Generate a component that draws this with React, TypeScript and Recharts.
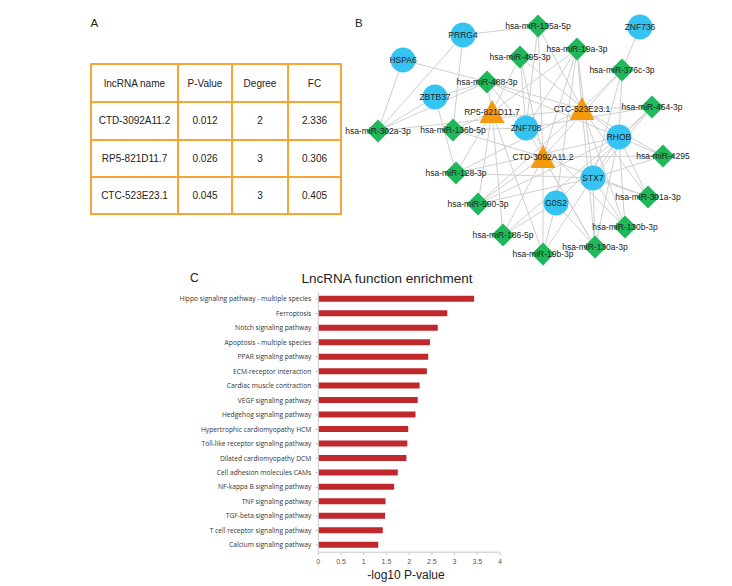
import React from "react";
import {
  BarChart, Bar, XAxis, YAxis, ScatterChart, Scatter,
} from "recharts";

// ---------- Panel A: table ----------
const tableHeader = ["lncRNA name", "P-Value", "Degree", "FC"];
const lncTableNames = ["CTD-3092A11.2", "RP5-821D11.7", "CTC-523E23.1"];
const lncPValues = ["0.012", "0.026", "0.045"];
const lncDegrees = ["2", "3", "3"];
const lncFC = ["2.336", "0.306", "0.405"];

// ---------- Panel B: network ----------
const mrnaNames = ["PRRG4", "ZNF736", "HSPA6", "ZBTB37", "ZNF708", "RHOB", "STX7", "G0S2"];
const mrnaX = [463, 640, 403, 435, 526, 619, 593, 556];
const mrnaY = [35, 27, 60, 97, 128, 137, 178, 203];

const lncNames = ["RP5-821D11.7", "CTC-523E23.1", "CTD-3092A11.2"];
const lncX = [492, 582, 543];
const lncY = [112, 109, 157];

const mirNames = [
  "hsa-miR-135a-5p", "hsa-miR-19a-3p", "hsa-miR-495-3p", "hsa-miR-376c-3p",
  "hsa-miR-488-3p", "hsa-miR-454-3p", "hsa-miR-302a-3p", "hsa-miR-136b-5p",
  "hsa-miR-4295", "hsa-miR-128-3p", "hsa-miR-301a-3p", "hsa-miR-590-3p",
  "hsa-miR-130b-3p", "hsa-miR-186-5p", "hsa-miR-130a-3p", "hsa-miR-19b-3p",
];
const mirX = [538, 577, 520, 622, 487, 652, 378, 453, 663, 456, 648, 478, 625, 503, 595, 543];
const mirY = [26, 49, 57, 70, 82, 107, 131, 130, 156, 173, 197, 204, 227, 235, 247, 254];

const edges: [string, string][] = [
  ["PRRG4", "hsa-miR-135a-5p"], ["PRRG4", "hsa-miR-302a-3p"], ["PRRG4", "hsa-miR-136b-5p"],
  ["HSPA6", "hsa-miR-302a-3p"], ["HSPA6", "hsa-miR-488-3p"],
  ["ZBTB37", "hsa-miR-302a-3p"], ["ZBTB37", "hsa-miR-128-3p"], ["ZBTB37", "hsa-miR-488-3p"],
  ["ZNF736", "hsa-miR-376c-3p"],
  ["hsa-miR-302a-3p", "hsa-miR-488-3p"], ["hsa-miR-302a-3p", "CTC-523E23.1"],
  ["RP5-821D11.7", "hsa-miR-488-3p"], ["RP5-821D11.7", "hsa-miR-495-3p"], ["RP5-821D11.7", "hsa-miR-19a-3p"],
  ["RP5-821D11.7", "hsa-miR-136b-5p"], ["RP5-821D11.7", "hsa-miR-128-3p"], ["RP5-821D11.7", "hsa-miR-590-3p"],
  ["RP5-821D11.7", "hsa-miR-186-5p"], ["RP5-821D11.7", "hsa-miR-19b-3p"],
  ["CTC-523E23.1", "hsa-miR-135a-5p"], ["CTC-523E23.1", "hsa-miR-19a-3p"], ["CTC-523E23.1", "hsa-miR-376c-3p"],
  ["CTC-523E23.1", "hsa-miR-454-3p"], ["CTC-523E23.1", "hsa-miR-488-3p"], ["CTC-523E23.1", "hsa-miR-128-3p"],
  ["CTC-523E23.1", "hsa-miR-590-3p"], ["CTC-523E23.1", "hsa-miR-130a-3p"], ["CTC-523E23.1", "hsa-miR-130b-3p"],
  ["CTC-523E23.1", "hsa-miR-301a-3p"], ["CTC-523E23.1", "hsa-miR-4295"],
  ["CTD-3092A11.2", "hsa-miR-135a-5p"], ["CTD-3092A11.2", "hsa-miR-495-3p"], ["CTD-3092A11.2", "hsa-miR-19a-3p"],
  ["CTD-3092A11.2", "hsa-miR-376c-3p"], ["CTD-3092A11.2", "hsa-miR-136b-5p"], ["CTD-3092A11.2", "hsa-miR-4295"],
  ["CTD-3092A11.2", "hsa-miR-590-3p"], ["CTD-3092A11.2", "hsa-miR-19b-3p"], ["CTD-3092A11.2", "hsa-miR-186-5p"],
  ["CTD-3092A11.2", "hsa-miR-130a-3p"], ["CTD-3092A11.2", "hsa-miR-301a-3p"],
  ["RHOB", "hsa-miR-376c-3p"], ["RHOB", "hsa-miR-454-3p"], ["RHOB", "hsa-miR-4295"], ["RHOB", "hsa-miR-301a-3p"],
  ["RHOB", "hsa-miR-130b-3p"], ["RHOB", "hsa-miR-130a-3p"], ["RHOB", "hsa-miR-19b-3p"], ["RHOB", "hsa-miR-186-5p"],
  ["RHOB", "hsa-miR-495-3p"], ["RHOB", "hsa-miR-488-3p"], ["RHOB", "hsa-miR-128-3p"], ["RHOB", "hsa-miR-590-3p"],
  ["STX7", "hsa-miR-454-3p"], ["STX7", "hsa-miR-4295"], ["STX7", "hsa-miR-301a-3p"], ["STX7", "hsa-miR-130b-3p"],
  ["STX7", "hsa-miR-130a-3p"], ["STX7", "hsa-miR-19a-3p"], ["STX7", "hsa-miR-376c-3p"], ["STX7", "hsa-miR-590-3p"],
  ["STX7", "hsa-miR-128-3p"],
  ["G0S2", "hsa-miR-454-3p"], ["G0S2", "hsa-miR-19b-3p"], ["G0S2", "hsa-miR-130a-3p"], ["G0S2", "hsa-miR-186-5p"],
  ["G0S2", "hsa-miR-19a-3p"],
  ["ZNF708", "hsa-miR-495-3p"], ["ZNF708", "hsa-miR-135a-5p"], ["ZNF708", "hsa-miR-19a-3p"], ["ZNF708", "hsa-miR-130a-3p"],
  ["ZNF708", "hsa-miR-130b-3p"], ["ZNF708", "hsa-miR-136b-5p"], ["ZNF708", "hsa-miR-488-3p"], ["ZNF708", "hsa-miR-454-3p"],
];

// ---------- Panel C: bar chart ----------
const pathways = [
  "Hippo signaling pathway - multiple species", "Ferroptosis", "Notch signaling pathway",
  "Apoptosis - multiple species", "PPAR signaling pathway", "ECM-receptor interaction",
  "Cardiac muscle contraction", "VEGF signaling pathway", "Hedgehog signaling pathway",
  "Hypertrophic cardiomyopathy HCM", "Toll-like receptor signaling pathway", "Dilated cardiomyopathy DCM",
  "Cell adhesion molecules CAMs", "NF-kappa B signaling pathway", "TNF signaling pathway",
  "TGF-beta signaling pathway", "T cell receptor signaling pathway", "Calcium signaling pathway",
];
const negLogP = [3.43, 2.84, 2.63, 2.46, 2.42, 2.39, 2.23, 2.19, 2.14, 1.98, 1.96, 1.94, 1.75, 1.67, 1.48, 1.47, 1.42, 1.32];
const xTicks = [0, 0.5, 1, 1.5, 2, 2.5, 3, 3.5, 4];

const FONT = "'Liberation Sans', Arial, sans-serif";

const mrnaNodes = mrnaNames.map((n, i) => ({ name: n, x: mrnaX[i], y: mrnaY[i], kind: "m" }));
const lncNodes = lncNames.map((n, i) => ({ name: n, x: lncX[i], y: lncY[i], kind: "l" }));
const mirNodes = mirNames.map((n, i) => ({ name: n, x: mirX[i], y: mirY[i], kind: "r" }));
const allNodes = [...mirNodes, ...lncNodes, ...mrnaNodes];
const nodeByName: Record<string, any> = {};
allNodes.forEach((n) => (nodeByName[n.name] = n));

const barData = pathways.map((p, i) => ({ name: p, value: negLogP[i] }));

const Empty = () => <g />;

const CircleShape = (p: any) => <circle cx={p.cx} cy={p.cy} r={12.5} fill="#35c4f2" />;
const DiamondShape = (p: any) => {
  const s = 11.5;
  return (
    <polygon
      points={`${p.cx},${p.cy - s} ${p.cx + s},${p.cy} ${p.cx},${p.cy + s} ${p.cx - s},${p.cy}`}
      fill="#1fb85a"
    />
  );
};
const TriangleShape = (p: any) => {
  const w = 12.5, h = 12;
  return (
    <polygon
      points={`${p.cx},${p.cy - h} ${p.cx + w},${p.cy + h - 1} ${p.cx - w},${p.cy + h - 1}`}
      fill="#f59a0c"
    />
  );
};
const LabelShape = (p: any) => (
  <text x={p.cx} y={p.cy} dy="0.35em" textAnchor="middle" fontSize={8.5} fontFamily={FONT} fill="#222">
    {p.payload.name}
  </text>
);

const CategoryTick = (p: any) => (
  <text
    x={p.x}
    y={p.y}
    dy="0.35em"
    textAnchor="end"
    fontSize={6.7}
    fontFamily="'Open Sans', 'Noto Sans', sans-serif"
    fill="#333"
  >
    {p.payload.value}
  </text>
);

export default function App() {
  const cellStyle: React.CSSProperties = {
    border: "2px solid #f7a535",
    textAlign: "center",
    fontFamily: FONT,
    fontSize: 10,
    color: "#222",
    padding: 0,
  };
  const colW = [87, 54, 56, 53];
  const rowH = [38, 37.5, 37, 37.5];
  return (
    <div style={{ position: "absolute", left: 0, top: 0, width: 732, height: 586, background: "#fff", overflow: "hidden" }}>
      {/* Panel letters and titles */}
      <svg width={732} height={586} style={{ position: "absolute", left: 0, top: 0 }}>
        <text x={90.5} y={26.7} fontSize={11.5} fontFamily={FONT} fill="#222">A</text>
        <text x={355} y={27.3} fontSize={11.5} fontFamily={FONT} fill="#222">B</text>
        <text x={190} y={282} fontSize={12} fontFamily={FONT} fill="#222">C</text>
        <text x={387} y={282.5} textAnchor="middle" fontSize={13.5} fontFamily={FONT} fill="#222">LncRNA function enrichment</text>
        <text x={406} y={579} textAnchor="middle" fontSize={12} fontFamily={FONT} fill="#222">-log10 P-value</text>
      </svg>

      {/* Panel A table */}
      <table style={{ position: "absolute", left: 90, top: 63, borderCollapse: "collapse", tableLayout: "fixed", width: 250 }}>
        <colgroup>
          {colW.map((w, i) => <col key={i} style={{ width: w }} />)}
        </colgroup>
        <tbody>
          <tr style={{ height: rowH[0] }}>
            {tableHeader.map((h) => <td key={h} style={cellStyle}>{h}</td>)}
          </tr>
          {lncTableNames.map((n, i) => (
            <tr key={n} style={{ height: rowH[i + 1] }}>
              <td style={cellStyle}>{n}</td>
              <td style={cellStyle}>{lncPValues[i]}</td>
              <td style={cellStyle}>{lncDegrees[i]}</td>
              <td style={cellStyle}>{lncFC[i]}</td>
            </tr>
          ))}
        </tbody>
      </table>

      {/* Panel B network */}
      <div style={{ position: "absolute", left: 340, top: 0 }}>
        <ScatterChart width={392} height={300} margin={{ top: 0, right: 0, bottom: 0, left: 0 }}>
          <XAxis type="number" dataKey="x" domain={[340, 732]} hide allowDataOverflow />
          <YAxis type="number" dataKey="y" domain={[0, 300]} reversed hide allowDataOverflow />
          {edges.map(([a, b], i) => (
            <Scatter
              key={"e" + i}
              data={[nodeByName[a], nodeByName[b]]}
              line={{ stroke: "#cfcfcf", strokeWidth: 1 }}
              shape={Empty}
              isAnimationActive={false}
              legendType="none"
            />
          ))}
          <Scatter data={mirNodes} shape={DiamondShape} isAnimationActive={false} />
          <Scatter data={lncNodes} shape={TriangleShape} isAnimationActive={false} />
          <Scatter data={mrnaNodes} shape={CircleShape} isAnimationActive={false} />
          <Scatter data={allNodes} shape={LabelShape} isAnimationActive={false} />
        </ScatterChart>
      </div>

      {/* Panel C bar chart */}
      <div style={{ position: "absolute", left: 180, top: 270 }}>
        <BarChart
          width={340}
          height={316}
          data={barData}
          layout="vertical"
          margin={{ top: 21.8, right: 20, bottom: 13.8, left: 0 }}
          barCategoryGap={4}
        >
          <XAxis
            type="number"
            domain={[0, 4]}
            ticks={xTicks}
            height={20}
            tick={{ fontSize: 7, fill: "#555", fontFamily: FONT }}
            tickSize={3}
            tickMargin={4}
            stroke="#c8c8c8"
          />
          <YAxis
            type="category"
            dataKey="name"
            width={138.3}
            interval={0}
            tick={<CategoryTick />}
            tickSize={3}
            tickMargin={4}
            stroke="#c8c8c8"
          />
          <Bar dataKey="value" fill="#c0282c" barSize={6} isAnimationActive={false} />
        </BarChart>
      </div>
    </div>
  );
}
